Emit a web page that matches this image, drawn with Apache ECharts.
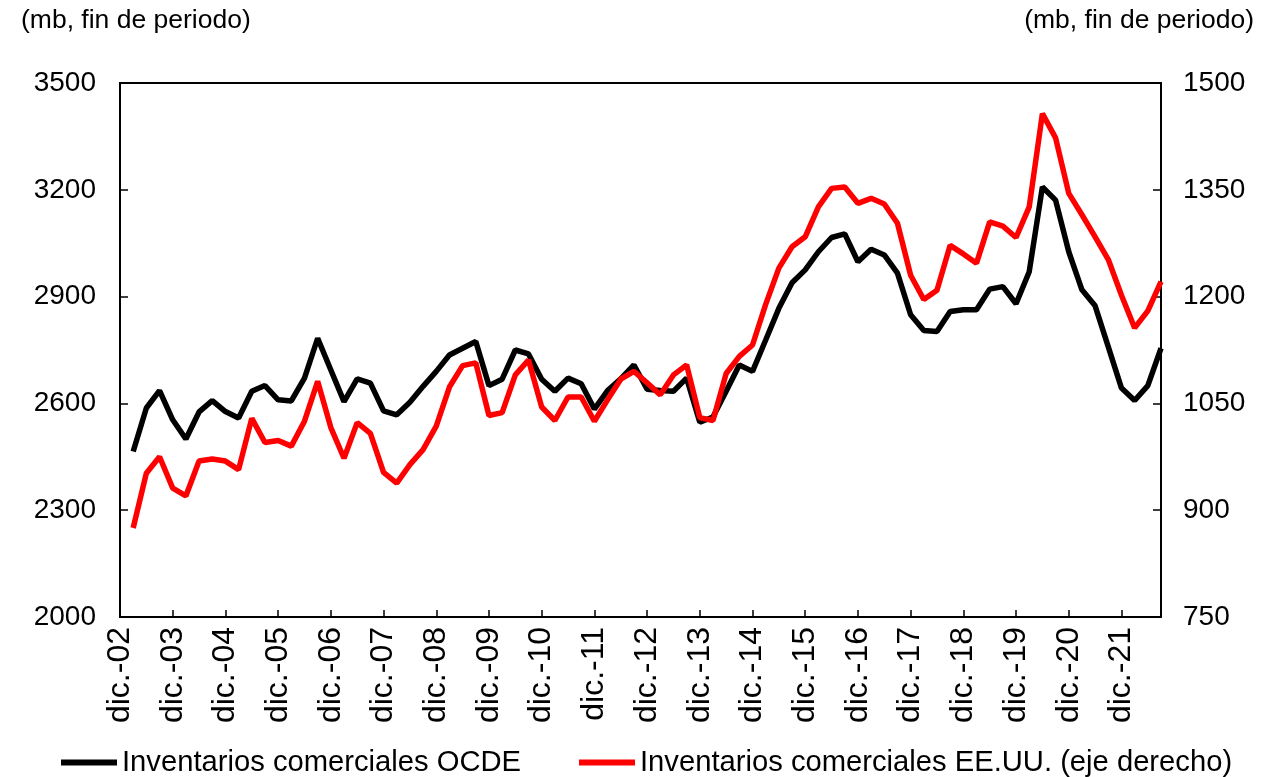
<!DOCTYPE html>
<html>
<head>
    <meta charset="utf-8">
    <title>Inventarios comerciales</title>
    <script src="https://cdn.jsdelivr.net/npm/echarts@6/dist/echarts.min.js"></script>
    <style>
        html, body {
            margin: 0;
            padding: 0;
            background: #fff;
        }

        #chart {
            width: 1267px;
            height: 777px;
        }
    </style>
</head>
<body>
<div id="chart"></div>

<script type="text/javascript">
    // categorias trimestrales: dic.-02 ... sep.-22
    var meses = ['mar.', 'jun.', 'sep.', 'dic.'];
    var categorias = ['dic.-02'];
    for (var a = 3; a <= 22; a++) {
        for (var q = 0; q < 4; q++) {
            if (a == 22 && q == 3) break;
            categorias.push(meses[q] + '-' + (a < 10 ? '0' + a : a));
        }
    }

    // inventarios comerciales OCDE (mb), eje izquierdo
    var ocde = [null,
        2465, 2587, 2636, 2554, 2500, 2576, 2608, 2577, 2559, 2634,
        2650, 2610, 2607, 2671, 2783, 2694, 2605, 2669, 2657, 2579,
        2568, 2603, 2648, 2690, 2736, 2755, 2774, 2650, 2668, 2750,
        2739, 2668, 2634, 2671, 2655, 2584, 2636, 2669, 2708, 2640,
        2636, 2634, 2671, 2547, 2562, 2634, 2708, 2690, 2778, 2867,
        2939, 2975, 3026, 3066, 3076, 2998, 3033, 3017, 2966, 2849,
        2805, 2802, 2858, 2863, 2863, 2921, 2928, 2880, 2970, 3208,
        3171, 3026, 2919, 2874, 2759, 2643, 2608, 2650, 2755];

    // inventarios comerciales EE.UU. (mb), eje derecho
    var eeuu = [null,
        875, 952, 975, 931, 920, 969, 972, 969, 957, 1029,
        995, 998, 990, 1025, 1081, 1016, 973, 1023, 1008, 953,
        938, 964, 985, 1018, 1073, 1103, 1107, 1033, 1037, 1090,
        1111, 1045, 1026, 1059, 1059, 1025, 1055, 1084, 1095, 1079,
        1062, 1090, 1104, 1030, 1026, 1092, 1116, 1132, 1189, 1240,
        1270, 1284, 1326, 1352, 1354, 1331, 1338, 1330, 1303, 1230,
        1196, 1209, 1272, 1260, 1247, 1305, 1299, 1283, 1326, 1457,
        1423, 1345, 1315, 1284, 1252, 1202, 1156, 1180, 1221];

    var nombres = ['Inventarios comerciales OCDE', 'Inventarios comerciales EE.UU. (eje derecho)'];

    var fuente = '"Liberation Sans", Arial, sans-serif';

    function leyenda(nombre, izq) {
        return {
            left: izq,
            top: 743,
            itemWidth: 56,
            itemHeight: 6,
            icon: 'rect',
            textStyle: {fontFamily: fuente, fontSize: 29.2, color: '#000'},
            data: [nombre]
        };
    }

    function chart() {
        var myChart = echarts.init(document.getElementById('chart'));
        var option = {
            backgroundColor: '#fff',
            animation: false,
            title: [
                {
                    text: '(mb, fin de periodo)',
                    left: 16,
                    top: 2,
                    textStyle: {fontFamily: fuente, fontSize: 26.5, fontWeight: 'normal', color: '#000'}
                },
                {
                    text: '(mb, fin de periodo)',
                    right: 8,
                    top: 2,
                    textStyle: {fontFamily: fuente, fontSize: 26.5, fontWeight: 'normal', color: '#000'}
                }
            ],
            legend: [leyenda(nombres[0], 56), leyenda(nombres[1], 574)],
            grid: {
                left: 120,
                right: 106,
                top: 83,
                bottom: 160,
                show: true,
                borderColor: '#000',
                borderWidth: 2
            },
            xAxis: {
                type: 'category',
                boundaryGap: false,
                data: categorias,
                axisLine: {lineStyle: {color: '#000', width: 2}},
                axisTick: {inside: true, length: 7, interval: 3, lineStyle: {color: '#000', width: 1.5}},
                axisLabel: {
                    interval: 3,
                    rotate: 90,
                    margin: 10,
                    color: '#000',
                    fontFamily: fuente,
                    fontSize: 32
                },
                splitLine: {show: false}
            },
            yAxis: [
                {
                    type: 'value',
                    min: 2000,
                    max: 3500,
                    interval: 300,
                    axisLine: {show: true, lineStyle: {color: '#000', width: 2}},
                    axisTick: {show: true, inside: true, length: 8, lineStyle: {color: '#000', width: 1.5}},
                    axisLabel: {
                        margin: 24, color: '#000', fontFamily: fuente, fontSize: 28,
                        formatter: function (v) { return String(v); }
                    },
                    splitLine: {show: false}
                },
                {
                    type: 'value',
                    position: 'right',
                    min: 750,
                    max: 1500,
                    interval: 150,
                    axisLine: {show: true, lineStyle: {color: '#000', width: 2}},
                    axisTick: {show: true, inside: true, length: 8, lineStyle: {color: '#000', width: 1.5}},
                    axisLabel: {
                        margin: 22, color: '#000', fontFamily: fuente, fontSize: 28,
                        formatter: function (v) { return String(v); }
                    },
                    splitLine: {show: false}
                }
            ],
            series: [
                {
                    name: nombres[0],
                    type: 'line',
                    data: ocde,
                    symbol: 'none',
                    color: '#000',
                    lineStyle: {color: '#000', width: 5.5}
                },
                {
                    name: nombres[1],
                    type: 'line',
                    yAxisIndex: 1,
                    data: eeuu,
                    symbol: 'none',
                    color: '#ff0000',
                    lineStyle: {color: '#ff0000', width: 5.5}
                }
            ]
        };
        myChart.setOption(option);
    }

    window.onload = function () {
        chart();
    };
</script>

</body>
</html>
